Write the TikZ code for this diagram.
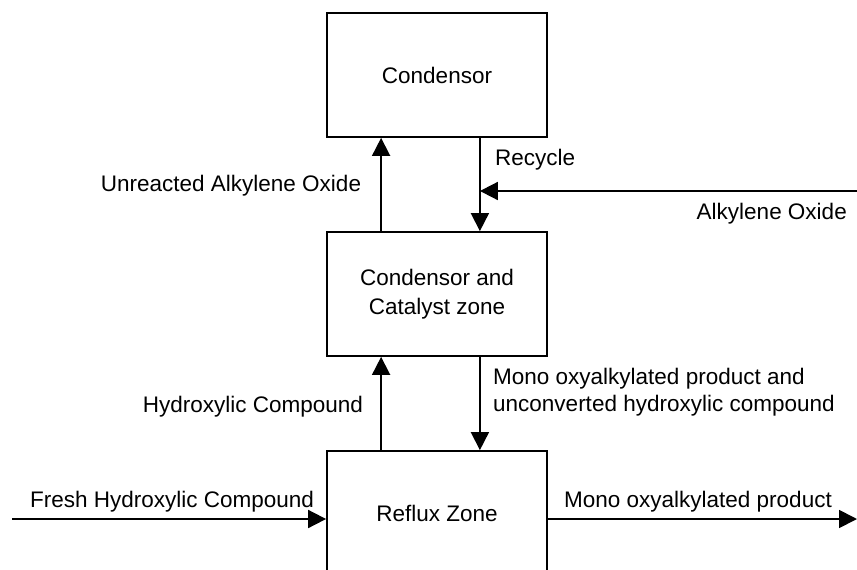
\documentclass[tikz,border=0pt]{standalone}
\usepackage{fontspec}
\setmainfont{Liberation Sans}
\usetikzlibrary{arrows.meta}
\begin{document}
\begin{tikzpicture}[x=1pt,y=-1pt,
  blk/.style={draw, line width=1.8pt, minimum width=220pt, minimum height=124pt,
    align=center, font=\fontsize{22.5}{29}\selectfont},
  lbl/.style={inner sep=0pt, font=\fontsize{22.5}{27}\selectfont},
  arr/.style={line width=1.8pt, -{Triangle[length=18pt,width=18pt]}}]
\useasboundingbox (0,0) rectangle (857,570);
\clip (0,0) rectangle (857,570);
\fill[white] (0,0) rectangle (857,570);

% process blocks
\node[blk] (cond) at (437,75) {Condensor};
\node[blk] (cat) at (437,294) {Condensor and\\Catalyst zone};
\node[blk] (ref) at (437,513) {Reflux Zone};

% vertical streams between blocks
\coordinate (upA) at ([xshift=55pt]cond.south west);
\coordinate (dnA) at ([xshift=-68pt]cond.south east);
\draw[arr] ([xshift=55pt]cat.north west) -- (upA);
\draw[arr] (dnA) -- ([xshift=-68pt]cat.north east);
\draw[arr] ([xshift=55pt]ref.north west) -- ([xshift=55pt]cat.south west);
\draw[arr] ([xshift=-68pt]cat.south east) -- ([xshift=-68pt]ref.north east);

% feed and product streams
\coordinate (aoin) at (857,191);
\draw[arr] (aoin) -- (aoin -| dnA);
\coordinate (fin) at (12,519);
\draw[arr] (fin) -- (fin -| ref.west);
\coordinate (pout) at (857,519);
\draw[arr] (pout -| ref.east) -- (pout);

% stream labels
\node[lbl, anchor=west] (lrec) at (495,160) {Recycle};
\node[lbl] (lunr) at (231,186) {Unreacted Alkylene Oxide};
\node[lbl, anchor=east] (lao) at (847,214) {Alkylene Oxide};
\node[lbl, anchor=west, align=left] (lmix) at (493,392) {Mono oxyalkylated product and\\unconverted hydroxylic compound};
\node[lbl] (lhyd) at (253,407) {Hydroxylic Compound};
\node[lbl] (lfresh) at (172,502) {Fresh Hydroxylic Compound};
\node[lbl] (lprod) at (698,502) {Mono oxyalkylated product};
\end{tikzpicture}
\end{document}
